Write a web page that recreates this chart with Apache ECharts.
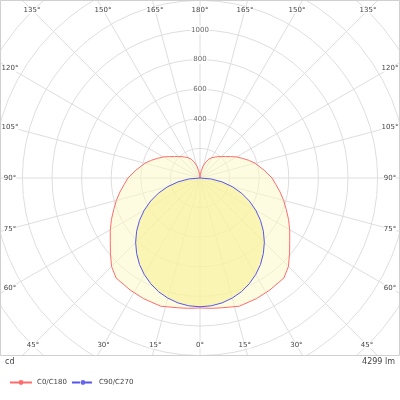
<!DOCTYPE html>
<html><head><meta charset="utf-8">
<script src="https://cdn.jsdelivr.net/npm/echarts@6/dist/echarts.min.js"></script>
<style>html,body{margin:0;padding:0;background:#fff}#c{width:400px;height:400px}</style>
</head><body><div id="c"></div>
<script>
const redAngles = [0,5,10,17,25,32,40,45,50,55,60,65,70,75,80,85,90,97,105,110,115,120,125,130,135,140,145,150,155,160,165,170,175,180];
const redValues = [878,884,890,906,900,892,882,845,790,740,700,660,620,585,550,515,487,436,385,350,315,285,252,225,205,188,172,158,140,115,85,50,22,0];
const blueAngles = [0,5,10,15,20,25,30,35,40,45,50,55,60,65,70,75,80,85,90,180];
const blueValues = [870,867,857,840,818,788,753,713,666,615,559,499,435,368,298,225,151,76,0,0];
const radiusTicks = [400,600,800,1000];
const angleLabels = [0,15,30,45,60,75,90,105,120,135,150,165,180];
const seriesNames = ['C0/C180','C90/C270'];

const CX=200, CY=178, PXPER=0.148, RMAX=2000;
function full(angles, vals){
  const out=[];
  for(let i=0;i<angles.length;i++) out.push([vals[i], angles[i]]);
  for(let i=angles.length-2;i>=0;i--) out.push([vals[i], 360-angles[i]]);
  return out;
}
const chart = echarts.init(document.getElementById('c'),null,{renderer:'canvas'});
const txt = '#444', F = 'DejaVu Sans';
const graphics = [];
angleLabels.forEach(a=>{
  const sides = a===0||a===180 ? [1] : [1,-1];
  sides.forEach(s=>{
    const r=a*Math.PI/180, dx=Math.sin(r)*s, dy=Math.cos(r);
    let t=Infinity;
    if(Math.abs(dx)>1e-6) t=Math.min(t,190/Math.abs(dx));
    if(Math.abs(dy)>1e-6) t=Math.min(t,(dy>0?167:168)/Math.abs(dy));
    graphics.push({type:'text',x:CX+dx*t,y:CY+dy*t,z:100,style:{text:a+'°',fill:txt,font:'7px '+F,align:'center',verticalAlign:'middle',backgroundColor:'#fff'}});
  });
});
graphics.push({type:'rect',shape:{x:0,y:356,width:400,height:44},style:{fill:'#fff'},z:4});
graphics.push({type:'rect',shape:{x:0.5,y:0.5,width:399,height:355},style:{fill:null,stroke:'#d0d0d0',lineWidth:1},z:5});
graphics.push({type:'text',x:5,y:362,z:100,style:{text:'cd',fill:txt,font:'8px '+F,verticalAlign:'middle'}});
graphics.push({type:'text',x:395,y:362,z:100,style:{text:'4299 lm',fill:txt,font:'8px '+F,align:'right',verticalAlign:'middle'}});

chart.setOption({
  animation:false,
  polar:{center:[CX,CY],radius:RMAX*PXPER},
  angleAxis:{type:'value',min:0,max:360,interval:15,startAngle:-90,clockwise:true,
    axisLine:{show:false},axisTick:{show:false},axisLabel:{show:false},
    splitLine:{show:true,lineStyle:{color:'#dedede',width:1}}},
  radiusAxis:{type:'value',min:0,max:RMAX,interval:200,
    axisLine:{show:false},axisTick:{show:false},axisLabel:{show:false},
    splitLine:{show:true,lineStyle:{color:'#dedede',width:1}}},
  legend:{orient:'vertical',left:4,top:374,z:20,itemWidth:22,itemHeight:6,itemGap:4,
    textStyle:{fontSize:7,color:txt,fontFamily:F},
    data:[{name:seriesNames[0]},{name:seriesNames[1],lineStyle:{type:'dashed'}}]},
  series:[
    {name:seriesNames[0],type:'line',coordinateSystem:'polar',symbol:'none',z:2,
     data:full(redAngles,redValues),lineStyle:{color:'#ff6b6b',width:1},itemStyle:{color:'#ff6b6b'},
     areaStyle:{color:'rgba(254,249,200,0.8)'}},
    {name:seriesNames[1],type:'line',coordinateSystem:'polar',symbol:'none',z:3,
     data:full(blueAngles,blueValues),lineStyle:{color:'#5555ee',width:1},itemStyle:{color:'#6666ee'},
     areaStyle:{color:'rgba(249,240,140,0.75)'}},
    {type:'scatter',coordinateSystem:'polar',symbolSize:0,z:5,silent:true,
     data:radiusTicks.map(v=>[v,180]),
     label:{show:true,position:'inside',formatter:p=>p.value[0],fontSize:7,color:txt,fontFamily:F,backgroundColor:'#fff',padding:[1,1]}}
  ],
  graphic:graphics
});
</script></body></html>
